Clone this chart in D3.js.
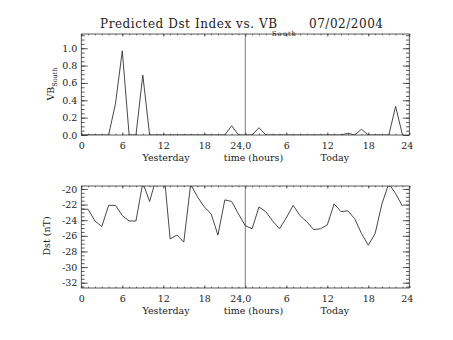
<!DOCTYPE html>
<html>
<head>
<meta charset="utf-8">
<script src="https://cdn.jsdelivr.net/npm/d3@7"></script>
<style>
  html, body { margin: 0; padding: 0; background: #fff; }
  svg { display: block; }
  text { font-family: "DejaVu Serif", serif; fill: #222; }
</style>
</head>
<body>
<svg id="chart" width="453" height="340"></svg>
<script>
// ---- data ----
const hours = [0,1,2,3,4,5,6,7,8,9,10,11,12,13,14,15,16,17,18,19,20,21,22,23,
               24,25,26,27,28,29,30,31,32,33,34,35,36,37,38,39,40,41,42,43,44,45,46,47];
const vbSouth = [0,0,0,0,0,0.36,0.97,0,0,0.69,0,0,0,0,0,0,0,0,0,0,0,0,0.107,0,
                 0,0,0.084,0,0,0,0,0,0,0,0,0,0,0,0,0.02,0,0.066,0,0,0,0,0.33,0];
const dst = [-22.6,-22.6,-24.1,-24.8,-22.1,-22.1,-23.4,-24.1,-24.1,-19.2,-21.6,-18.5,
             -16.9,-26.4,-25.9,-26.8,-19.4,-21.0,-22.3,-23.2,-25.9,-21.4,-21.6,-23.2,
             -24.7,-25.1,-22.3,-22.9,-24.1,-25.1,-23.7,-22.1,-23.4,-24.2,-25.2,-25.1,
             -24.6,-21.9,-22.9,-22.8,-23.8,-25.7,-27.2,-25.7,-21.9,-19.3,-20.6,-22.2];
const xTickValues = [0,6,12,18,24,30,36,42,48];
const xTickLabels = ["0","6","12","18","24,0","6","12","18","24"];
const vbTicks = [0,0.2,0.4,0.6,0.8,1.0];
const dstTicks = [-32,-30,-28,-26,-24,-22,-20];
const titleText = "Predicted Dst Index vs. VB";
const titleSub = "South";
const titleDate = "07/02/2004";
const xSubLabels = ["Yesterday","time (hours)","Today"];
const xSubLabelHours = [12.4, 25.2, 37.1];

// ---- layout ----
const svg = d3.select("#chart");
const X0 = 81.3, X1 = 409.3;
const x = d3.scaleLinear().domain([0,48]).range([X0, X1]);
const panels = [
  {top:34, bottom:135, domain:[0,1.164], ticks:vbTicks, minorStep:0.05, fmt:d3.format(".1f"), data:vbSouth},
  {top:186, bottom:288, domain:[-32.68,-19.62], ticks:dstTicks, minorStep:0.5, fmt:d=>String(d), data:dst}
];
const stroke = "#333";

panels.forEach((p,i) => {
  const y = d3.scaleLinear().domain(p.domain).range([p.bottom, p.top]);
  const g = svg.append("g");
  const W = X1 - X0, H = p.bottom - p.top;
  const clipId = "clip"+i;
  svg.append("clipPath").attr("id", clipId).append("rect")
    .attr("x", X0).attr("y", p.top).attr("width", W).attr("height", H);

  const yMinor = d3.range(Math.ceil(p.domain[0]/p.minorStep)*p.minorStep, p.domain[1]+1e-9, p.minorStep);
  const xMinor = hours.concat([48]);
  const tickStyle = sel => { sel.select(".domain").remove(); sel.selectAll("line").attr("stroke", stroke).attr("stroke-width",0.8); };

  // left axis
  g.append("g").attr("transform",`translate(${X0},0)`)
    .call(d3.axisLeft(y).tickValues(p.ticks).tickFormat(p.fmt).tickSizeInner(-6.5).tickSizeOuter(0).tickPadding(4))
    .call(tickStyle)
    .call(s => s.selectAll("text").attr("font-size", 9.5).attr("font-family","DejaVu Serif").attr("fill","#222").attr("x",-4));
  g.append("g").attr("transform",`translate(${X0},0)`)
    .call(d3.axisLeft(y).tickValues(yMinor).tickFormat("").tickSizeInner(-3.3).tickSizeOuter(0))
    .call(tickStyle);
  // right axis
  g.append("g").attr("transform",`translate(${X1},0)`)
    .call(d3.axisRight(y).tickValues(p.ticks).tickFormat("").tickSizeInner(-6.5).tickSizeOuter(0))
    .call(tickStyle);
  g.append("g").attr("transform",`translate(${X1},0)`)
    .call(d3.axisRight(y).tickValues(yMinor).tickFormat("").tickSizeInner(-3.3).tickSizeOuter(0))
    .call(tickStyle);
  // bottom axis
  g.append("g").attr("transform",`translate(0,${p.bottom})`)
    .call(d3.axisBottom(x).tickValues(xTickValues).tickFormat((d,k)=>xTickLabels[k]).tickSizeInner(-2.5).tickSizeOuter(0).tickPadding(7))
    .call(tickStyle)
    .call(s => s.selectAll("text").attr("font-size", 9.5).attr("font-family","DejaVu Serif").attr("fill","#222").attr("y",7)
      .each(function(d){
        if (d===24) d3.select(this).attr("text-anchor","end").attr("dx", 5.5);
        if (d===48) d3.select(this).attr("dx", -2.5);
      }));
  g.append("g").attr("transform",`translate(0,${p.bottom})`)
    .call(d3.axisBottom(x).tickValues(xMinor).tickFormat("").tickSizeInner(-1.3).tickSizeOuter(0))
    .call(tickStyle);
  // top axis
  g.append("g").attr("transform",`translate(0,${p.top})`)
    .call(d3.axisTop(x).tickValues(xTickValues).tickFormat("").tickSizeInner(-2.5).tickSizeOuter(0))
    .call(tickStyle);
  g.append("g").attr("transform",`translate(0,${p.top})`)
    .call(d3.axisTop(x).tickValues(xMinor).tickFormat("").tickSizeInner(-1.3).tickSizeOuter(0))
    .call(tickStyle);

  // box
  g.append("rect").attr("x",X0).attr("y",p.top).attr("width",W).attr("height",H)
    .attr("fill","none").attr("stroke",stroke).attr("stroke-width",0.8);
  // vertical divider at 24h
  g.append("line").attr("x1",x(24)).attr("x2",x(24)).attr("y1",p.top).attr("y2",p.bottom)
    .attr("stroke","#555").attr("stroke-width",0.8);

  // data line
  const line = d3.line().x((d,k)=>x(hours[k])).y(d=>y(d));
  g.append("path").datum(p.data).attr("d",line).attr("fill","none")
    .attr("stroke",stroke).attr("stroke-width",0.9).attr("clip-path",`url(#${clipId})`);

  // sub labels under x axis
  const subY = p.bottom + 25.5;
  xSubLabels.forEach((t,k) => {
    g.append("text").attr("x",x(xSubLabelHours[k])).attr("y",subY).attr("text-anchor","middle")
      .attr("font-size",9.5).text(t);
  });
});

// title
svg.append("text").attr("x",100).attr("y",28).attr("font-size",12)
  .attr("textLength",177).attr("lengthAdjust","spacing").text(titleText);
svg.append("text").attr("x",272).attr("y",35.5).attr("font-size",6.8)
  .attr("textLength",24).attr("lengthAdjust","spacing").text(titleSub);
svg.append("text").attr("x",309).attr("y",28).attr("font-size",12)
  .attr("textLength",74).attr("lengthAdjust","spacing").text(titleDate);

// y labels
const yl1 = svg.append("text").attr("transform","translate(54,84) rotate(-90)")
  .attr("text-anchor","middle").attr("font-size",9.5);
yl1.append("tspan").text("VB");
yl1.append("tspan").attr("font-size",6.5).attr("dy",3).text("South");

svg.append("text").attr("transform","translate(50,236) rotate(-90)")
  .attr("text-anchor","middle").attr("font-size",9.5).text("Dst (nT)");
</script>
</body>
</html>
